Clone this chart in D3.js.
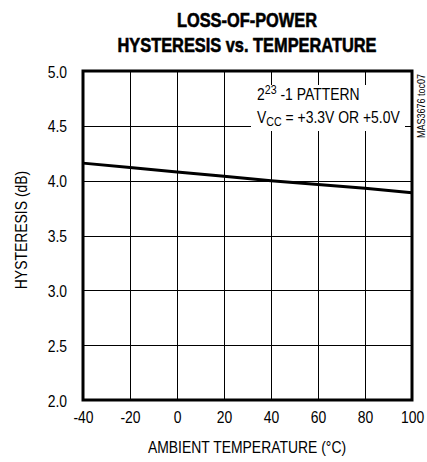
<!DOCTYPE html>
<html><head><meta charset="utf-8">
<script src="https://cdn.jsdelivr.net/npm/d3@7"></script>
<style>
body{margin:0;background:#fff;}
text{font-family:"Liberation Sans","Arial",sans-serif;fill:#000;}
</style></head>
<body><svg id="c" width="427" height="462"></svg>
<script>
const temperature = [-40, -20, 0, 20, 40, 60, 80, 100];
const hysteresis = [4.16, 4.12, 4.08, 4.04, 4.00, 3.965, 3.93, 3.89];
const xTicks = [-40, -20, 0, 20, 40, 60, 80, 100];
const yTicks = [2.0, 2.5, 3.0, 3.5, 4.0, 4.5, 5.0];
const titleLines = ["LOSS-OF-POWER", "HYSTERESIS vs. TEMPERATURE"];

const NARROW = 0.82;
const svg = d3.select("#c");
const L = 83, R = 412, T = 71, B = 400;
const x = d3.scaleLinear().domain([-40, 100]).range([L, R]);
const y = d3.scaleLinear().domain([2, 5]).range([B, T]);

function label(px, py, str, size, opts = {}) {
  const rot = opts.rotate || 0;
  const sx = opts.scale || NARROW;
  const t = svg.append("text")
    .attr("transform", `translate(${px},${py}) rotate(${rot}) scale(${sx},1)`)
    .attr("text-anchor", opts.anchor || "start")
    .style("font-size", size + "px")
    .style("font-weight", opts.weight || "normal")
    .text(str);
  if (opts.heavy) t.attr("stroke", "#000").attr("stroke-width", opts.heavy);
  return t;
}

// grid
const g = svg.append("g");
g.selectAll("line.v").data(xTicks.slice(1, -1)).enter().append("line")
  .attr("x1", d => Math.round(x(d)) + 0.5).attr("x2", d => Math.round(x(d)) + 0.5)
  .attr("y1", T).attr("y2", B).attr("stroke", "#000").attr("stroke-width", 1);
g.selectAll("line.h").data(yTicks.slice(1, -1)).enter().append("line")
  .attr("y1", d => Math.round(y(d)) + 0.5).attr("y2", d => Math.round(y(d)) + 0.5)
  .attr("x1", L).attr("x2", R).attr("stroke", "#000").attr("stroke-width", 1);

// annotation background
svg.append("rect").attr("x", 251).attr("y", 85).attr("width", 154).attr("height", 46).attr("fill", "#fff");
const ann = svg.append("text").attr("transform", `translate(257,100) scale(${NARROW},1)`).style("font-size", "17px");
ann.append("tspan").text("2");
ann.append("tspan").attr("dy", -6).style("font-size", "13px").text("23");
ann.append("tspan").attr("dy", 6).text(" -1 PATTERN");
const ann2 = svg.append("text").attr("transform", `translate(257,123) scale(${NARROW},1)`).style("font-size", "17px");
ann2.append("tspan").text("V");
ann2.append("tspan").attr("dy", 3).style("font-size", "13px").text("CC");
ann2.append("tspan").attr("dy", -3).text(" = +3.3V OR +5.0V");

// data line
svg.append("path").datum(temperature.map((t, i) => [t, hysteresis[i]]))
  .attr("fill", "none").attr("stroke", "#000").attr("stroke-width", 3)
  .attr("d", d3.line().x(d => x(d[0])).y(d => y(d[1])));

// frame
svg.append("rect").attr("x", L).attr("y", T).attr("width", R - L).attr("height", B - T)
  .attr("fill", "none").attr("stroke", "#000").attr("stroke-width", 3);

// axes labels via d3 axes (no domain/ticks lines)
const xa = svg.append("g").attr("transform", `translate(0,${B})`)
  .call(d3.axisBottom(x).tickValues(xTicks).tickSize(0).tickPadding(0).tickFormat(d => String(d)));
xa.select(".domain").remove();
xa.selectAll("text").attr("font-family", null).style("font-size", "17px")
  .attr("y", 0).attr("dy", null).attr("transform", `translate(0,23) scale(${NARROW},1)`);
const ya = svg.append("g").attr("transform", `translate(${L},0)`)
  .call(d3.axisLeft(y).tickValues(yTicks).tickSize(0).tickPadding(0).tickFormat(d3.format(".1f")));
ya.select(".domain").remove();
ya.selectAll("text").attr("font-family", null).style("font-size", "17px")
  .attr("x", 0).attr("dy", null).attr("transform", `translate(-16,6) scale(${NARROW},1)`);

// titles
titleLines.forEach((t, i) => label(247, 27 + i * 25, t, 20, {anchor: "middle", weight: "bold", scale: 0.82, heavy: 0.6}));

label(247, 453, "AMBIENT TEMPERATURE (°C)", 17, {anchor: "middle"});
label(27, 230, "HYSTERESIS (dB)", 17, {anchor: "middle", rotate: -90});
label(425, 106, "MAS3676 toc07", 11, {anchor: "middle", rotate: -90});
</script></body></html>
